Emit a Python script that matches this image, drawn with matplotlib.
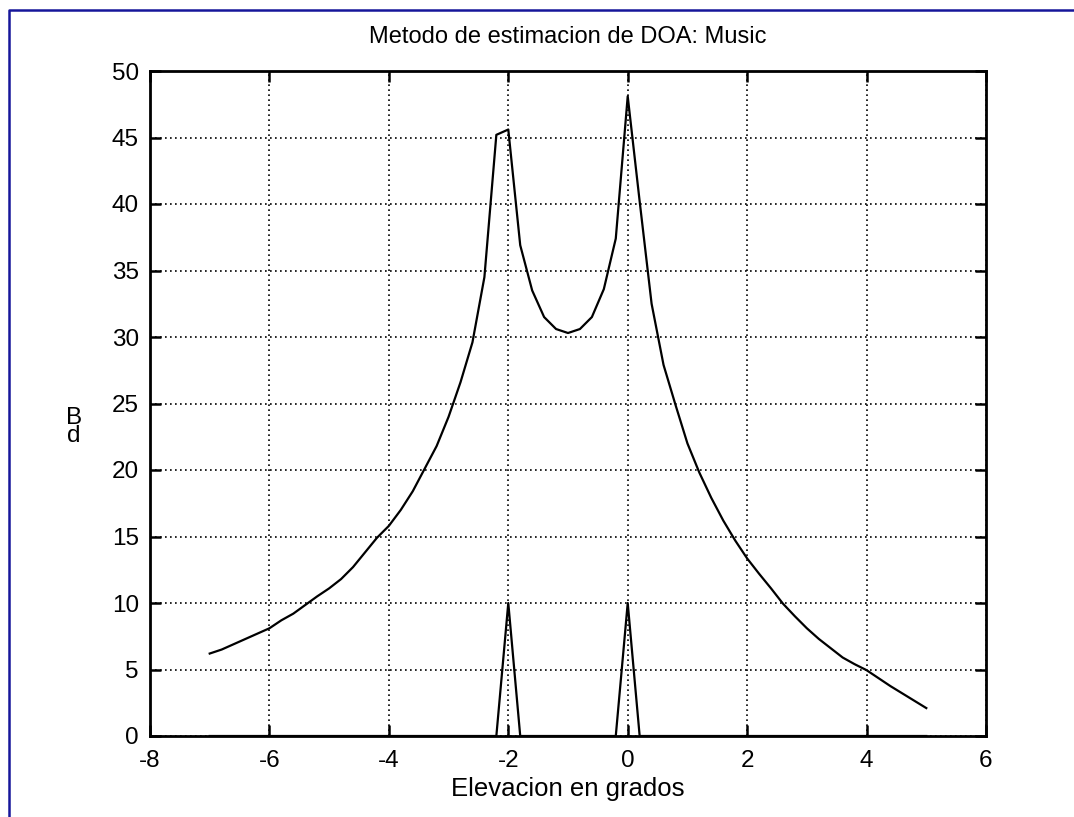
import numpy as np
import matplotlib
matplotlib.use('Agg')
import matplotlib.pyplot as plt
from matplotlib.lines import Line2D

plt.rcParams['font.family'] = ['Liberation Sans', 'DejaVu Sans']
plt.rcParams['axes.unicode_minus'] = False

# elevation grid (degrees)
elev = [-7.0, -6.8, -6.6, -6.4, -6.2, -6.0, -5.8, -5.6, -5.4, -5.2,
        -5.0, -4.8, -4.6, -4.4, -4.2, -4.0, -3.8, -3.6, -3.4, -3.2,
        -3.0, -2.8, -2.6, -2.4, -2.2, -2.0, -1.8, -1.6, -1.4, -1.2,
        -1.0, -0.8, -0.6, -0.4, -0.2, 0.0, 0.2, 0.4, 0.6, 0.8,
        1.0, 1.2, 1.4, 1.6, 1.8, 2.0, 2.2, 2.4, 2.6, 2.8,
        3.0, 3.2, 3.4, 3.6, 3.8, 4.0, 4.2, 4.4, 4.6, 4.8,
        5.0]

# MUSIC pseudo-spectrum in dB
music_db = [6.2, 6.5, 6.9, 7.3, 7.7, 8.1, 8.7, 9.2, 9.85, 10.5,
            11.1, 11.8, 12.7, 13.8, 14.9, 15.8, 17.0, 18.4, 20.1, 21.8,
            24.0, 26.6, 29.6, 34.5, 45.2, 45.6, 36.9, 33.5, 31.5, 30.6,
            30.3, 30.6, 31.5, 33.6, 37.4, 48.1, 40.2, 32.5, 27.9, 24.9,
            22.0, 19.8, 17.9, 16.2, 14.7, 13.35, 12.2, 11.1, 9.95, 9.0,
            8.1, 7.3, 6.6, 5.9, 5.4, 4.95, 4.35, 3.75, 3.2, 2.65,
            2.1]

# marks at the real arrival angles (-2 and 0 deg)
doa_real = [0] * 25 + [10] + [0] * 9 + [10] + [0] * 25

xticks = [-8, -6, -4, -2, 0, 2, 4, 6]
yticks = [0, 5, 10, 15, 20, 25, 30, 35, 40, 45, 50]

W, H = 1074, 817
fig = plt.figure(figsize=(W / 100, H / 100), dpi=100)
ax = fig.add_axes([150 / W, 1 - 736 / H, 836 / W, 665 / H])

ax.plot(elev, music_db, color='k', lw=1.6)
ax.plot(elev, doa_real, color='k', lw=1.6)

ax.set_xlim(-8, 6)
ax.set_ylim(0, 50)
ax.set_xticks(xticks)
ax.set_yticks(yticks)
ax.grid(True, color='k', linestyle=(0, (1, 2)), lw=1.2)
ax.tick_params(direction='in', length=8, width=1.8, labelsize=17.5,
               top=True, right=True, pad=8)
ax.tick_params(axis='x', pad=10)
for sp in ax.spines.values():
    sp.set_linewidth(2.0)

ax.set_title('Metodo de estimacion de DOA: Music', fontsize=17, pad=20)
ax.set_xlabel('Elevacion en grados', fontsize=18.5, labelpad=4)

# stacked y label
fig.text(74 / W, 1 - 427 / H, 'B\nd', fontsize=17.5, ha='center',
         va='center', linespacing=0.78)

# blue frame along top and left edges
fig.add_artist(Line2D([8.5 / W, 8.5 / W, 1.0], [0.0, 1 - 10 / H, 1 - 10 / H],
                      transform=fig.transFigure, color='#16169a', lw=1.8))

fig.savefig('out.png', dpi=100)
